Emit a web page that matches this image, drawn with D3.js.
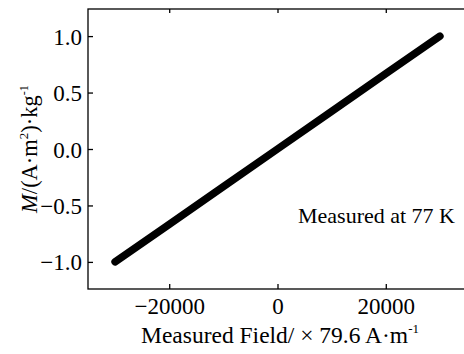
<!DOCTYPE html>
<html><head><meta charset="utf-8">
<script src="https://cdn.jsdelivr.net/npm/d3@7"></script>
<style>
  body { margin: 0; background: #fff; }
  svg { display: block; font-family: "Liberation Serif", "Times New Roman", serif; }
  .axis path, .axis line { stroke: #000; stroke-width: 1.3; }
  .axis text { font-size: 23px; fill: #000; font-family: "Liberation Serif", serif; }
</style>
</head><body>
<svg width="464" height="354"></svg>
<script>
  // data
  var field = [-30000, -20000, -10000, 0, 10000, 20000, 30000];
  var moment = [-1.0, -0.667, -0.333, 0.0, 0.333, 0.667, 1.0];
  var xTicks = [-20000, 0, 20000];
  var yTicks = [1.0, 0.5, 0.0, -0.5, -1.0];

  var svg = d3.select("svg");
  var mLeft = 88, mRight = 467, mTop = 9, mBottom = 289;

  var x = d3.scaleLinear().domain([-35000, 35000]).range([mLeft, mRight]);
  var y = d3.scaleLinear().domain([-1.24, 1.24]).range([mBottom, mTop]);

  function minus(s) { return String(s).replace("-", "\u2212"); }

  // frame
  svg.append("rect")
    .attr("x", mLeft).attr("y", mTop)
    .attr("width", mRight - mLeft).attr("height", mBottom - mTop)
    .attr("fill", "none").attr("stroke", "#000").attr("stroke-width", 1.3);

  // bottom axis
  svg.append("g").attr("class", "axis")
    .attr("transform", "translate(0," + mBottom + ")")
    .call(d3.axisBottom(x).tickValues(xTicks).tickSizeInner(-5).tickSizeOuter(0)
      .tickFormat(function(d){ return minus(d); }))
    .call(function(g){
      g.select(".domain").remove();
      g.selectAll("text").attr("y", 25).attr("dy", null);
    });

  // top ticks
  svg.append("g").attr("class", "axis")
    .attr("transform", "translate(0," + mTop + ")")
    .call(d3.axisTop(x).tickValues(xTicks).tickSizeInner(-4).tickSizeOuter(0).tickFormat(""))
    .call(function(g){ g.select(".domain").remove(); });

  // left axis
  svg.append("g").attr("class", "axis")
    .attr("transform", "translate(" + mLeft + ",0)")
    .call(d3.axisLeft(y).tickValues(yTicks).tickSizeInner(-5).tickSizeOuter(0)
      .tickFormat(function(d){ return minus(d3.format(".1f")(d)); }))
    .call(function(g){
      g.select(".domain").remove();
      g.selectAll("text").attr("x", -6).attr("dy", "0.35em");
    });

  // data line
  var line = d3.line()
    .x(function(d, i){ return x(field[i]); })
    .y(function(d, i){ return y(moment[i]); });
  svg.append("path")
    .datum(field)
    .attr("d", line)
    .attr("fill", "none")
    .attr("stroke", "#000")
    .attr("stroke-width", 7.5)
    .attr("stroke-linecap", "round");

  // annotation
  svg.append("text")
    .attr("x", 455).attr("y", 223)
    .attr("text-anchor", "end")
    .attr("font-size", 22)
    .text("Measured at 77 K");

  // x title
  var xt = svg.append("text")
    .attr("x", 280).attr("y", 343)
    .attr("text-anchor", "middle")
    .attr("font-size", 23.5);
  xt.append("tspan").text("Measured Field/ \u00d7 79.6 A\u00b7m");
  xt.append("tspan").attr("dy", -10).attr("font-size", 13).text("-1");

  // y title
  var yt = svg.append("text")
    .attr("transform", "translate(37,149) rotate(-90)")
    .attr("text-anchor", "middle")
    .attr("font-size", 22.5);
  yt.append("tspan").attr("font-style", "italic").text("M");
  yt.append("tspan").text("/(A\u00b7m");
  yt.append("tspan").attr("dy", -9).attr("font-size", 13).text("2");
  yt.append("tspan").attr("dy", 9).text(")\u00b7kg");
  yt.append("tspan").attr("dy", -9).attr("font-size", 12).text("-1");
</script>
</body></html>
